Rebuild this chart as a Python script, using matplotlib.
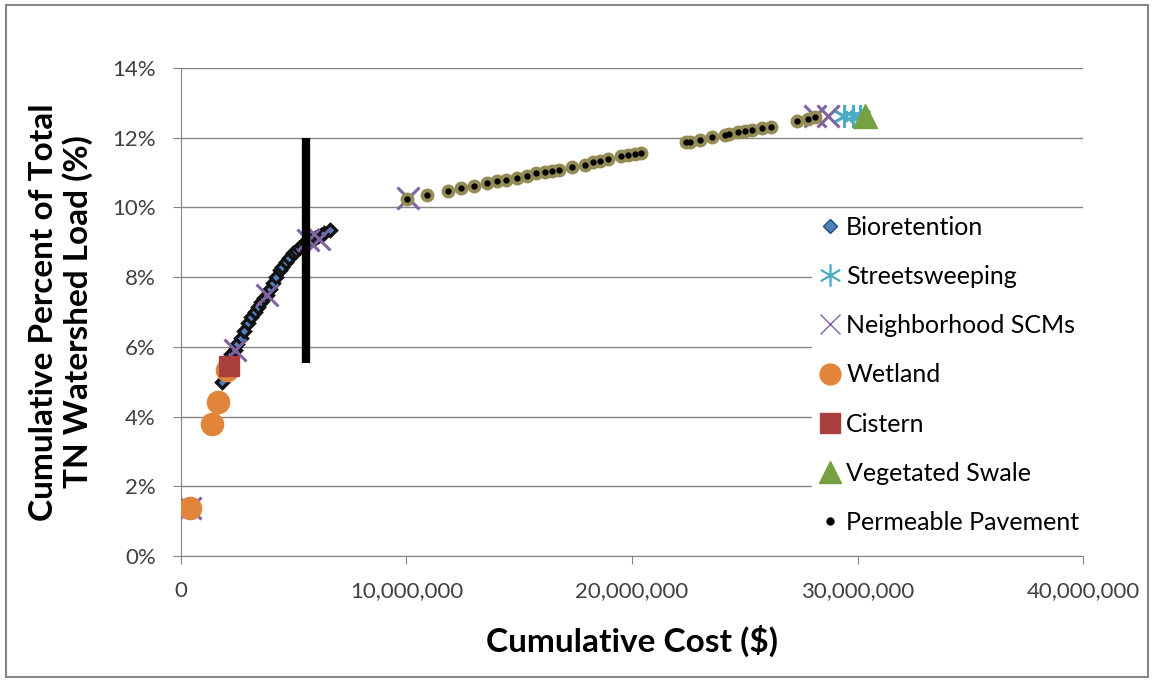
import matplotlib.pyplot as plt
from matplotlib.lines import Line2D
from matplotlib.patches import Rectangle
from matplotlib.ticker import FuncFormatter, MultipleLocator

plt.rcParams['font.family'] = ['Lato', 'DejaVu Sans']

# cumulative cost ($) and cumulative % of TN load per practice
bio_cost = [1.82e6, 1.95e6, 2.08e6, 2.2e6, 2.39e6, 2.5e6, 2.66e6, 2.8e6, 2.97e6, 3.1e6,
            3.28e6, 3.4e6, 3.55e6, 3.68e6, 3.81e6, 3.95e6, 4.08e6, 4.2e6, 4.39e6, 4.5e6,
            4.66e6, 4.8e6, 4.97e6, 5.1e6, 5.23e6, 5.36e6, 5.5e6, 5.65e6, 5.81e6, 5.95e6,
            6.08e6, 6.2e6, 6.34e6, 6.61e6]
bio_pct = [4.99, 5.3, 5.62, 5.8, 5.91, 6.08, 6.25, 6.45, 6.68, 6.85,
           7.0, 7.15, 7.29, 7.4, 7.49, 7.66, 7.83, 8.0, 8.2, 8.3,
           8.43, 8.56, 8.69, 8.76, 8.84, 8.91, 8.98, 9.03, 9.09, 9.13,
           9.18, 9.22, 9.27, 9.35]

sweep_cost = [29.4e6, 29.8e6, 30.1e6]
sweep_pct = [12.62, 12.62, 12.62]

nbhd_cost = [0.4e6, 2.4e6, 3.8e6, 5.65e6, 6.1e6, 10.05e6, 28.1e6, 28.7e6]
nbhd_pct = [1.38, 5.91, 7.49, 9.06, 9.1, 10.27, 12.62, 12.62]

wet_cost = [0.4e6, 1.37e6, 1.64e6, 2.05e6]
wet_pct = [1.38, 3.79, 4.42, 5.35]

cist_cost = [2.15e6]
cist_pct = [5.45]

swale_cost = [30.35e6]
swale_pct = [12.62]

pp_cost = [10.02e6, 10.91e6, 11.84e6, 12.42e6, 12.99e6, 13.57e6, 14.01e6, 14.41e6,
           14.9e6, 15.34e6, 15.74e6, 16.14e6, 16.45e6, 16.76e6, 17.34e6, 17.92e6,
           18.27e6, 18.58e6, 18.94e6, 19.51e6, 19.82e6, 20.13e6, 20.4e6,
           22.39e6, 22.57e6, 23.0e6, 23.55e6, 24.12e6, 24.3e6, 24.7e6, 25.0e6,
           25.3e6, 25.77e6, 26.16e6, 27.3e6, 27.8e6, 28.1e6]
pp_pct = [10.24, 10.36, 10.47, 10.56, 10.62, 10.70, 10.76, 10.79,
          10.84, 10.90, 10.99, 11.02, 11.04, 11.07, 11.16, 11.22,
          11.30, 11.33, 11.39, 11.47, 11.50, 11.53, 11.56,
          11.88, 11.89, 11.93, 12.02, 12.08, 12.12, 12.16, 12.19,
          12.22, 12.28, 12.31, 12.48, 12.54, 12.6]

# budget marker line
budget_cost = [5.55e6, 5.55e6]
budget_pct = [5.55, 12.0]

fig = plt.figure(figsize=(11.54, 6.81), dpi=100)
ax = fig.add_axes([0.1568, 0.1836, 0.7817, 0.7165])

blue = '#4F81BD'
cyan = '#4BACC6'
purple = '#8064A2'
orange = '#E0853A'
red = '#A9403D'
green = '#77A042'
olive = '#958B55'

ax.plot(bio_cost, bio_pct, 'D', ms=6, mfc=blue, mec='#111111', mew=2.4, zorder=3)
ax.plot(sweep_cost, sweep_pct, linestyle='none', marker=(6, 2, 0), ms=16, mec=cyan, mew=2, zorder=4)
ax.plot(nbhd_cost, nbhd_pct, 'x', ms=16, mec=purple, mew=2.2, zorder=4)
ax.plot(wet_cost, wet_pct, 'o', ms=16, mfc=orange, mec=orange, zorder=5)
ax.plot(cist_cost, cist_pct, 's', ms=15, mfc=red, mec=red, zorder=6)
ax.plot(swale_cost, swale_pct, '^', ms=17, mfc=green, mec=green, zorder=6)
ax.plot(pp_cost, pp_pct, 'o', ms=9, mfc=olive, mec=olive, zorder=7)
ax.plot(pp_cost, pp_pct, 'o', ms=3.5, mfc='black', mec='black', zorder=8)
ax.plot(budget_cost, budget_pct, color='black', lw=6, zorder=9, solid_capstyle='butt')

ax.set_xlim(0, 40e6)
ax.set_ylim(0, 14)
ax.xaxis.set_major_locator(MultipleLocator(10e6))
ax.yaxis.set_major_locator(MultipleLocator(2))
ax.xaxis.set_major_formatter(FuncFormatter(lambda v, p: f'{v:,.0f}'))
ax.yaxis.set_major_formatter(FuncFormatter(lambda v, p: f'{v:.0f}%'))
ax.grid(axis='y', color='#868686', lw=1)
ax.set_axisbelow(True)
for s in ['top', 'right']:
    ax.spines[s].set_visible(False)
for s in ['left', 'bottom']:
    ax.spines[s].set_color('#868686')
ax.tick_params(axis='both', colors='#868686', labelcolor='#404040', labelsize=16, length=6)
ax.tick_params(axis='x', pad=12)
ax.tick_params(axis='y', pad=12)

ax.set_xlabel('Cumulative Cost ($)', fontsize=24, fontweight='bold', labelpad=17)
ax.set_ylabel('Cumulative Percent of Total\nTN Watershed Load (%)', fontsize=24,
              fontweight='bold', labelpad=14, linespacing=1.15)

handles = [
    Line2D([], [], ls='none', marker='D', ms=7, mfc=blue, mec='#1F497D', label='Bioretention'),
    Line2D([], [], ls='none', marker=(6, 2, 0), ms=16, mec=cyan, mew=1.2, label='Streetsweeping'),
    Line2D([], [], ls='none', marker='x', ms=15, mec=purple, mew=1, label='Neighborhood SCMs'),
    Line2D([], [], ls='none', marker='o', ms=15, mfc=orange, mec=orange, label='Wetland'),
    Line2D([], [], ls='none', marker='s', ms=14, mfc=red, mec=red, label='Cistern'),
    Line2D([], [], ls='none', marker='^', ms=16, mfc=green, mec=green, label='Vegetated Swale'),
    Line2D([], [], ls='none', marker='o', ms=5, mfc='black', mec='black', label='Permeable Pavement'),
]
leg = ax.legend(handles=handles, loc='center left', bbox_to_anchor=(0.7, 0.371),
                frameon=True, fontsize=18, labelspacing=1.05, handlelength=1.0,
                handletextpad=0.15, borderpad=0.2, borderaxespad=0)
leg.get_frame().set_facecolor('white')
leg.get_frame().set_edgecolor('none')
leg.get_frame().set_alpha(1)
leg.set_zorder(10)

fig.patches.append(Rectangle((0.005, 0.006), 0.99, 0.987, transform=fig.transFigure,
                             fill=False, edgecolor='#868686', lw=1.5))

fig.savefig('out.png', dpi=100)
